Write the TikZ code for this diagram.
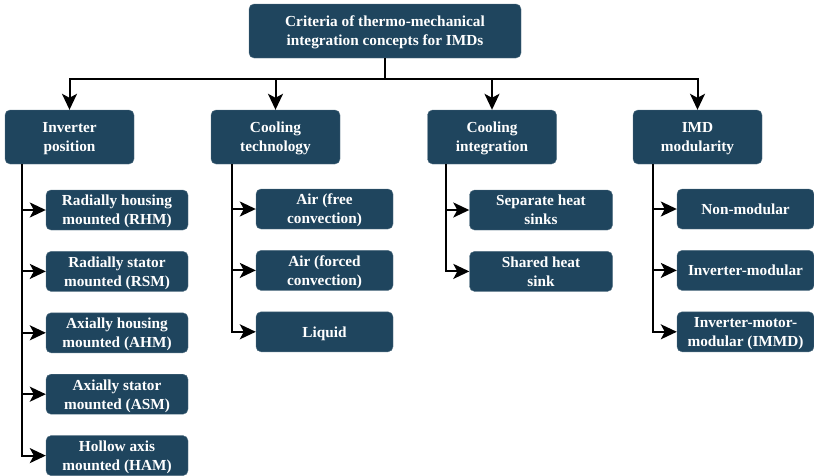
\documentclass[tikz,border=0pt]{standalone}
\usepackage{fontspec}
\setmainfont{Liberation Serif}
\usetikzlibrary{arrows.meta, positioning}
\definecolor{boxblue}{HTML}{1F455E}

\begin{document}
\begin{tikzpicture}[
  x=1pt, y=1pt,
  node distance=21pt,
  box/.style={
    rectangle,
    draw=boxblue!75!white,
    rounded corners=5pt,
    align=center,
    inner sep=0pt,
    text depth=0pt,
    fill=boxblue,
    text=white,
    font=\bfseries\fontsize{15.3}{19}\selectfont
  },
  topbox/.style={box, minimum width=272pt, minimum height=54pt},
  catbox/.style={box, minimum width=129pt, minimum height=54pt},
  itembox/.style={box, minimum height=40pt},
  arrow/.style={-{Stealth[length=16pt, width=15pt, inset=4pt]}, line width=2pt},
  link/.style={line width=2pt}
]
\useasboundingbox (0,0) rectangle (814,-475);

% Top node
\node[topbox] (crit) at (385,-31) {Criteria of thermo-mechanical\\integration concepts for IMDs};

% Criteria (second row)
\node[catbox] (inv)  at (69.5,-137) {Inverter\\position};
\node[catbox] (tech) at (275.5,-137) {Cooling\\technology};
\node[catbox] (integ) at (492,-137) {Cooling\\integration};
\node[catbox] (modu) at (697.5,-137) {IMD\\modularity};

% Inverter position
\node[itembox, minimum width=142pt] (rhm) at (117,-210) {Radially housing\\mounted (RHM)};
\node[itembox, minimum width=142pt, below=of rhm] (rsm) {Radially stator\\mounted (RSM)};
\node[itembox, minimum width=142pt, below=of rsm] (ahm) {Axially housing\\mounted (AHM)};
\node[itembox, minimum width=142pt, below=of ahm] (asm) {Axially stator\\mounted (ASM)};
\node[itembox, minimum width=142pt, below=of asm] (ham) {Hollow axis\\mounted (HAM)};

% Cooling technology
\node[itembox, minimum width=137pt] (free) at (324.5,-209) {Air (free\\convection)};
\node[itembox, minimum width=137pt, below=of free] (forced) {Air (forced\\convection)};
\node[itembox, minimum width=137pt, below=of forced] (liquid) {Liquid};

% Cooling integration
\node[itembox, minimum width=143pt] (separate) at (541,-210) {Separate heat\\sinks};
\node[itembox, minimum width=143pt, below=of separate] (shared) {Shared heat\\sink};

% IMD modularity
\node[itembox, minimum width=137pt] (nonmod) at (745.5,-209) {Non-modular};
\node[itembox, minimum width=137pt, below=of nonmod] (invmod) {Inverter-modular};
\node[itembox, minimum width=137pt, below=of invmod] (immd) {Inverter-motor-\\modular (IMMD)};

% Arrows from the top node
\draw[link] (crit.south) -- ++(0,-21) coordinate (bus);
\draw[arrow] (bus) -| (inv.north);
\draw[arrow] (bus) -| (tech.north);
\draw[arrow] (bus) -| (integ.north);
\draw[arrow] (bus) -| (modu.north);

% Arrows to the items
\foreach \item in {rhm, rsm, ahm, asm, ham}
  \draw[arrow] ([xshift=17pt]inv.south west) |- (\item.west);
\foreach \item in {free, forced, liquid}
  \draw[arrow] ([xshift=21pt]tech.south west) |- (\item.west);
\foreach \item in {separate, shared}
  \draw[arrow] ([xshift=19pt]integ.south west) |- (\item.west);
\foreach \item in {nonmod, invmod, immd}
  \draw[arrow] ([xshift=20pt]modu.south west) |- (\item.west);

\end{tikzpicture}
\end{document}
